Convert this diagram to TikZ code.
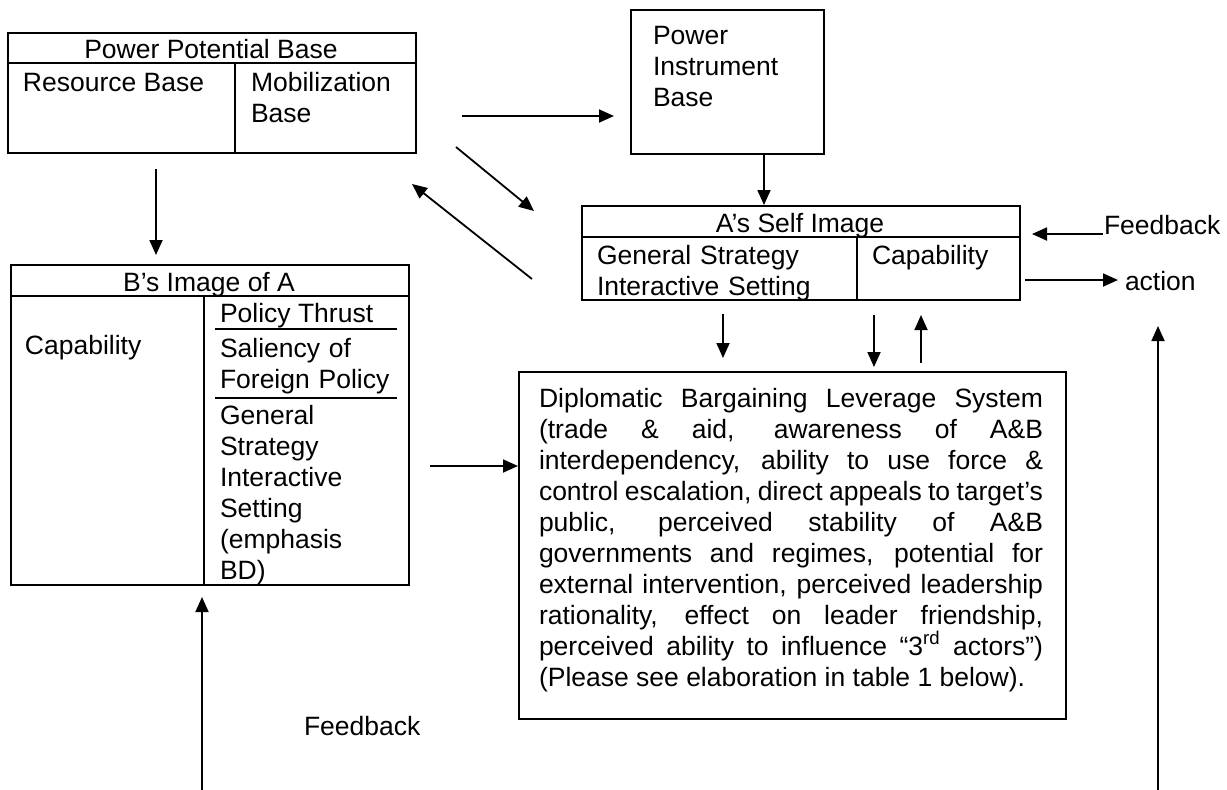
\documentclass[tikz,border=0pt]{standalone}
\usepackage{fontspec}
\setmainfont{Liberation Sans}
\usepackage{tikz}
\usetikzlibrary{positioning,arrows.meta}

\begin{document}
\begin{tikzpicture}[x=0.5pt,y=-0.5pt,font=\fontsize{13.25}{15.5}\selectfont,line width=1pt]
  \tikzstyle{box}=[draw,rectangle,anchor=north west,inner sep=0,line width=1pt]
  \tikzstyle{txt}=[inner sep=0,anchor=base west]
  \tikzstyle{ctxt}=[inner sep=0,anchor=base]
  \tikzstyle{arr}=[-{Triangle[length=7.5pt,width=6.5pt]},line width=0.9pt]
  \useasboundingbox (0,0) rectangle (1227,789);
  % boxes
  \node(ppb)[box,minimum width=204pt,minimum height=60pt] at (7,32){};
  \node(pib)[box,minimum width=96.5pt,minimum height=72pt] at (630,9){};
  \node(asi)[box,minimum width=219pt,minimum height=47pt] at (581,205){};
  \node(bia)[box,minimum width=199pt,minimum height=160pt] at (10,264){};
  \node(dbls)[box,minimum width=273.5pt,minimum height=173.5pt] at (518,371){};
  % inner lines
  \draw (ppb.west |- 0,63) -- (ppb.east |- 0,63);
  \draw (235,63) -- (ppb.south -| 235,0);
  \draw (asi.west |- 0,237) -- (asi.east |- 0,237);
  \draw (857,237) -- (asi.south -| 857,0);
  \draw (bia.west |- 0,296) -- (bia.east |- 0,296);
  \draw (204,296) -- (bia.south -| 204,0);
  \draw (215,329) -- (397,329);
  \draw (215,398) -- (397,398);
  % texts
  \node(ppbt)[ctxt] at (211,58){Power Potential Base};
  \node(rb)[txt] at (22,91){Resource Base};
  \node(mb)[txt,text width=80pt,align=left] at (250,91){Mobilization\\Base};
  \node(pibt)[txt,text width=90pt,align=left] at (652,44){Power\\Instrument\\Base};
  \node(asit)[ctxt] at (800,232){A’s Self Image};
  \node(gsis)[txt,text width=130pt,align=left] at (596,264){General Strategy\\Interactive Setting};
  \node(acap)[txt] at (871,264){Capability};
  \node(fbr)[txt] at (1103,234){Feedback};
  \node(act)[txt] at (1124,290){action};
  \node(biat)[ctxt] at (209,291){B’s Image of A};
  \node(bcap)[txt] at (24,354){Capability};
  \node(pt)[txt] at (219,322){Policy Thrust};
  \node(sfp)[txt,text width=90pt,align=left] at (219,357){Saliency of\\Foreign Policy};
  \node(bgs)[txt,text width=90pt,align=left] at (219,424){General\\Strategy\\Interactive\\Setting\\(emphasis\\BD)};
  \node(fbl)[txt] at (303,735){Feedback};
  \node(dblst)[txt,text width=252pt,align=justify] at (538,407){Diplomatic Bargaining Leverage System\linebreak
    (trade \& aid, awareness of A\&B\linebreak
    interdependency, ability to use force \&\linebreak
    control escalation, direct appeals to target’s\linebreak
    public, perceived stability of A\&B\linebreak
    governments and regimes, potential for\linebreak
    external intervention, perceived leadership\linebreak
    rationality, effect on leader friendship,\linebreak
    perceived ability to influence “3\textsuperscript{rd} actors”)\linebreak
    (Please see elaboration in table 1 below).};
  % arrows
  \coordinate(dd1) at (456,147);
  \coordinate(dd2) at (534,211);
  \coordinate(du1) at (532,279);
  \coordinate(du2) at (412,184);
  \coordinate(fb1) at (202,792);
  \coordinate(fb2) at (1158,792);
  \coordinate(fb3) at (1158,326);
  \draw[arr,shorten <=22.5pt,shorten >=8pt] (ppb.east |- 0,116) -- (pib.west |- 0,116);
  \draw[arr] (dd1) -- (dd2);
  \draw[arr] (du1) -- (du2);
  \draw[arr] (pib.south -| 764,0) -- (asi.north -| 764,0);
  \draw[arr,shorten <=6.5pt,shorten >=6.5pt] (asi.south -| 723,0) -- (dbls.north -| 723,0);
  \draw[arr,shorten <=7pt,shorten >=2pt] (asi.south -| 874,0) -- (dbls.north -| 874,0);
  \draw[arr,shorten <=4pt,shorten >=7pt] (dbls.north -| 921,0) -- (asi.south -| 921,0);
  \draw[arr,shorten >=5.5pt] (fbr.base west) -- (asi.east |- fbr.base);
  \draw[arr,shorten <=2pt,shorten >=3pt] (asi.east |- 0,280) -- (act.west |- 0,280);
  \draw[arr,shorten <=7.5pt,shorten >=4.5pt] (ppb.south -| 156,0) -- (bia.north -| 156,0);
  \draw[arr,shorten <=10pt] (bia.east |- 0,466) -- (dbls.west |- 0,466);
  \draw[arr,shorten >=5.5pt] (fb1) -- (bia.south -| fb1);
  \draw[arr] (fb2) -- (fb3);
\end{tikzpicture}
\end{document}
